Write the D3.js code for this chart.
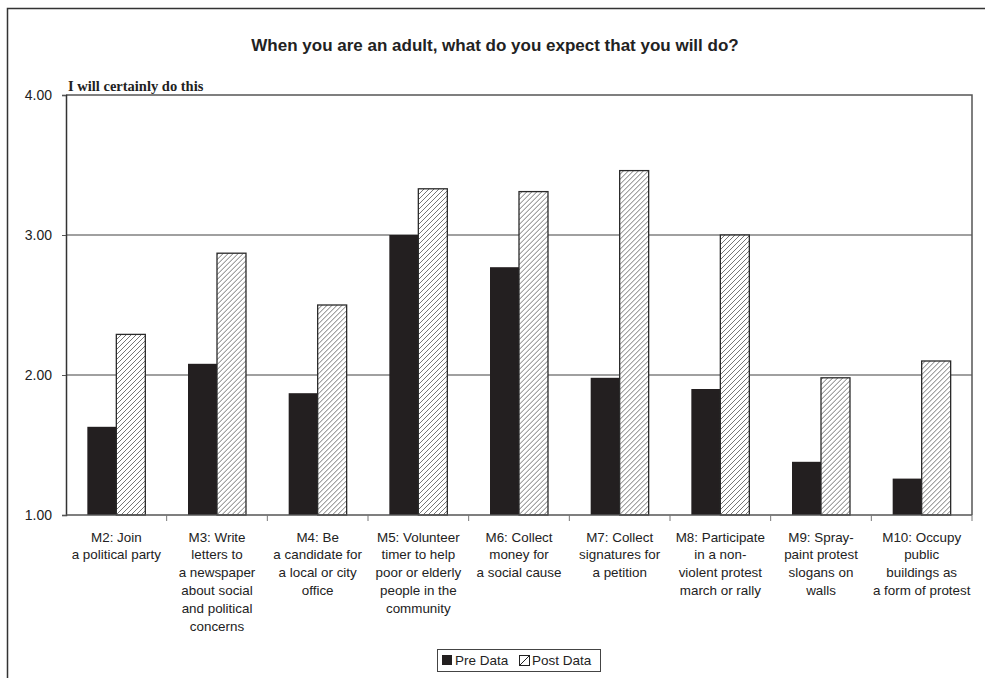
<!DOCTYPE html>
<html>
<head>
<meta charset="utf-8">
<script src="https://cdn.jsdelivr.net/npm/d3@7"></script>
<style>
  body { margin: 0; background: #fff; }
  text { font-family: Arial, "Liberation Sans", sans-serif; fill: #222; }
</style>
</head>
<body>
<div id="chart"></div>
<script>
var categories = [
  "M2: Join\na political party",
  "M3: Write\nletters to\na newspaper\nabout social\nand political\nconcerns",
  "M4: Be\na candidate for\na local or city\noffice",
  "M5: Volunteer\ntimer to help\npoor or elderly\npeople in the\ncommunity",
  "M6: Collect\nmoney for\na social cause",
  "M7: Collect\nsignatures for\na petition",
  "M8: Participate\nin a non-\nviolent protest\nmarch or rally",
  "M9: Spray-\npaint protest\nslogans on\nwalls",
  "M10: Occupy\npublic\nbuildings as\na form of protest"
];
var preData  = [1.63, 2.08, 1.87, 3.00, 2.77, 1.98, 1.90, 1.38, 1.26];
var postData = [2.29, 2.87, 2.50, 3.33, 3.31, 3.46, 3.00, 1.98, 2.10];
var seriesNames = ["Pre Data", "Post Data"];
var yTicks = [1, 2, 3, 4];

var width = 985, height = 678;
var plotLeft = 66, plotRight = 972, plotTop = 95, plotBottom = 515;

var svg = d3.select('#chart')
  .append('svg')
  .attr('width', width)
  .attr('height', height);

// hatch pattern for post bars
var defs = svg.append('defs');
var pat = defs.append('pattern')
  .attr('id', 'hatch')
  .attr('patternUnits', 'userSpaceOnUse')
  .attr('width', 5)
  .attr('height', 5);
pat.append('rect').attr('width', 5).attr('height', 5).attr('fill', '#fff');
pat.append('path')
  .attr('d', 'M-1,1 l2,-2 M0,5 l5,-5 M4,6 l2,-2')
  .attr('stroke', '#666')
  .attr('stroke-width', 0.9);

// outer frame
svg.append('rect')
  .attr('x', 7.5).attr('y', 8.5)
  .attr('width', 1000).attr('height', 700)
  .attr('fill', 'none')
  .attr('stroke', '#333')
  .attr('stroke-width', 1.5);

svg.append('text')
  .attr('x', 495).attr('y', 51)
  .attr('text-anchor', 'middle')
  .style('font-size', '17px')
  .style('font-weight', 'bold')
  .text('When you are an adult, what do you expect that you will do?');

var x0 = d3.scaleBand().domain(categories).range([plotLeft, plotRight]);
var bw = x0.bandwidth();
var x1 = d3.scaleBand().domain(seriesNames).range([bw * 0.212, bw * 0.788]);
var y = d3.scaleLinear().domain([1, 4]).range([plotBottom, plotTop]);

// gridlines
svg.append('g').selectAll('line')
  .data(yTicks.filter(function(d){ return d > 1 && d < 4; }))
  .enter().append('line')
  .attr('x1', plotLeft).attr('x2', plotRight)
  .attr('y1', function(d){ return y(d); })
  .attr('y2', function(d){ return y(d); })
  .attr('stroke', '#808080')
  .attr('stroke-width', 1.5);

// plot frame top/right
svg.append('path')
  .attr('d', 'M' + plotLeft + ',' + y(4) + 'H' + plotRight + 'V' + plotBottom)
  .attr('fill', 'none')
  .attr('stroke', '#555')
  .attr('stroke-width', 1.5);

var rows = categories.map(function(c, i){ return {cat: c, pre: preData[i], post: postData[i]}; });

var groups = svg.append('g').selectAll('g')
  .data(rows)
  .enter().append('g')
  .attr('transform', function(d){ return 'translate(' + x0(d.cat) + ',0)'; });

groups.append('rect')
  .attr('x', x1('Pre Data'))
  .attr('width', x1.bandwidth())
  .attr('y', function(d){ return y(d.pre); })
  .attr('height', function(d){ return y(1) - y(d.pre); })
  .attr('fill', '#231f20');

groups.append('rect')
  .attr('x', x1('Post Data'))
  .attr('width', x1.bandwidth())
  .attr('y', function(d){ return y(d.post); })
  .attr('height', function(d){ return y(1) - y(d.post); })
  .attr('fill', 'url(#hatch)')
  .attr('stroke', '#2a2a2a')
  .attr('stroke-width', 1.3);

// y axis
var yAxis = d3.axisLeft(y)
  .tickValues(yTicks)
  .tickFormat(d3.format('.2f'))
  .tickSize(4)
  .tickPadding(10);
var ya = svg.append('g')
  .attr('transform', 'translate(' + plotLeft + ',0)')
  .call(yAxis);
ya.select('.domain').attr('stroke', '#333').attr('stroke-width', 1.5);
ya.selectAll('.tick line').attr('stroke', '#555');
ya.selectAll('.tick text').style('font-size', '14px').attr('fill', '#222')
  .style('font-family', 'Arial, "Liberation Sans", sans-serif');

// x axis
var xa = svg.append('g')
  .attr('transform', 'translate(0,' + plotBottom + ')');
xa.append('line')
  .attr('x1', plotLeft).attr('x2', plotRight)
  .attr('stroke', '#555').attr('stroke-width', 1.5);
xa.selectAll('.xt')
  .data(categories)
  .enter().append('line')
  .attr('class', 'xt')
  .attr('x1', function(d){ return x0(d) + bw; })
  .attr('x2', function(d){ return x0(d) + bw; })
  .attr('y1', 0).attr('y2', 6)
  .attr('stroke', '#777');

var labels = xa.selectAll('.xl')
  .data(categories)
  .enter().append('text')
  .attr('class', 'xl')
  .attr('text-anchor', 'middle')
  .attr('transform', function(d){ return 'translate(' + (x0(d) + bw / 2) + ',26.5)'; })
  .style('font-size', '13.4px');
labels.selectAll('tspan')
  .data(function(d){ return d.split('\n'); })
  .enter().append('tspan')
  .attr('x', 0)
  .attr('dy', function(d, i){ return i === 0 ? 0 : 17.8; })
  .text(function(d){ return d; });

// top label
svg.append('text')
  .attr('x', 68).attr('y', 91)
  .style('font-family', '"Liberation Serif", "Times New Roman", serif')
  .style('font-weight', 'bold')
  .style('font-size', '14.5px')
  .text('I will certainly do this');

// legend
var lg = svg.append('g').attr('transform', 'translate(437,649)');
lg.append('rect')
  .attr('x', 0.5).attr('y', 0.5)
  .attr('width', 163).attr('height', 22)
  .attr('fill', '#fff')
  .attr('stroke', '#444');
lg.append('rect')
  .attr('x', 5).attr('y', 6).attr('width', 10).attr('height', 10)
  .attr('fill', '#231f20');
lg.append('text').attr('x', 18).attr('y', 16).style('font-size', '13.5px').text(seriesNames[0]);
lg.append('rect')
  .attr('x', 82.5).attr('y', 6.5).attr('width', 10).attr('height', 10)
  .attr('fill', '#fff').attr('stroke', '#222');
lg.append('path')
  .attr('d', 'M83,16 L92,7')
  .attr('stroke', '#222');
lg.append('text').attr('x', 95).attr('y', 16).style('font-size', '13.5px').text(seriesNames[1]);
</script>
</body>
</html>
